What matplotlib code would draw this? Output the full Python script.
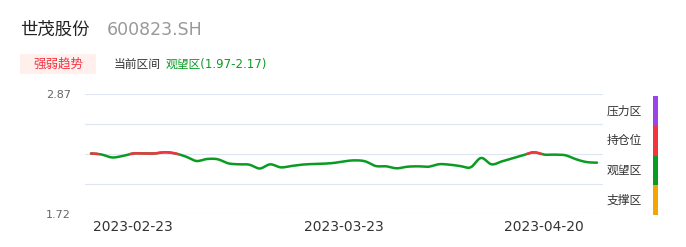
import matplotlib
matplotlib.use("Agg")
import matplotlib.pyplot as plt
import numpy as np
import pandas as pd

plt.rcParams['font.family'] = ['DejaVu Sans', 'Noto Sans CJK SC']

# trading days (Qingming holiday 2023-04-05 excluded)
dates = [d for d in pd.bdate_range('2023-02-17', '2023-04-27') if d.strftime('%m-%d') != '04-05']
values = [2.300, 2.290, 2.262, 2.276, 2.300, 2.300, 2.300, 2.312, 2.300, 2.270,
          2.228, 2.247, 2.245, 2.206, 2.196, 2.193, 2.156, 2.196, 2.167, 2.180,
          2.193, 2.199, 2.202, 2.209, 2.225, 2.234, 2.225, 2.180, 2.177, 2.158,
          2.173, 2.177, 2.173, 2.197, 2.193, 2.180, 2.167, 2.257, 2.196, 2.225,
          2.254, 2.283, 2.311, 2.289, 2.289, 2.283, 2.245, 2.218, 2.212]
tick_dates = ['2023-02-23', '2023-03-23', '2023-04-20']
y_min, y_max = 1.72, 2.87
hold_level = 2.295

zone_names = ['压力区', '持仓位', '观望区', '支撑区']
zone_colors = ['#9b45e8', '#f5333f', '#0a9c22', '#f5a500']

GREEN = '#0a9c22'
RED = '#f5333f'

fig = plt.figure(figsize=(6.86, 2.47), dpi=100)
ax = fig.add_axes([85/686, 33/247, 518/686, 120/247])

# smooth curve (catmull-rom)
x = np.arange(len(values))
y = np.array(values)
p = np.concatenate([[y[0]], y, [y[-1]]])
xs, ys = [], []
for i in range(len(y) - 1):
    t = np.linspace(0, 1, 20, endpoint=False)
    p0, p1, p2, p3 = p[i], p[i+1], p[i+2], p[i+3]
    seg = 0.5 * ((2*p1) + (-p0 + p2)*t + (2*p0 - 5*p1 + 4*p2 - p3)*t**2 + (-p0 + 3*p1 - 3*p2 + p3)*t**3)
    xs.extend(i + t)
    ys.extend(seg)
xs.append(x[-1]); ys.append(y[-1])
xs = np.array(xs); ys = np.array(ys)

ax.plot(xs, ys, color=GREEN, lw=1.8, solid_capstyle='round', zorder=3)
ax.plot(xs, np.ma.masked_less(ys, hold_level), color=RED, lw=1.8, solid_capstyle='round', zorder=4)

ax.set_xlim(-0.57, len(values) - 1 + 0.57)
ax.set_ylim(y_min, y_max)
for v in np.linspace(y_min, y_max, 5):
    ax.axhline(v, color='#e0e6f1', lw=0.8, zorder=1)
for s in ax.spines.values():
    s.set_visible(False)
ax.set_yticks([y_min, y_max])
ax.set_yticklabels([f'{y_min:.2f}', f'{y_max:.2f}'])
ax.tick_params(axis='y', length=0, pad=10, labelsize=8, labelcolor='#666666')
labels = [d.strftime('%Y-%m-%d') for d in dates]
ax.set_xticks([labels.index(t) for t in tick_dates])
ax.set_xticklabels(tick_dates)
ax.tick_params(axis='x', length=0, pad=4, labelsize=10, labelcolor='#333333')

# header
fig.text(20/686, 1 - 30/247, '世茂股份', fontsize=12.5, color='#222222', va='center')
fig.text(107/686, 1 - 30/247, '600823.SH', fontsize=12.5, color='#999999', va='center')
fig.patches.append(plt.Rectangle((20/686, 1 - 74/247), 76/686, 20/247, transform=fig.transFigure,
                                 facecolor='#fff0ee', edgecolor='none'))
fig.text(58/686, 1 - 64/247, '强弱趋势', fontsize=9, color=RED, va='center', ha='center')
fig.text(114/686, 1 - 64/247, '当前区间', fontsize=8.5, color='#333333', va='center')
fig.text(166/686, 1 - 64/247, '观望区(1.97-2.17)', fontsize=8.5, color=GREEN, va='center')

# zone legend bar
top, h = 96, 29.8
for k, (name, c) in enumerate(zip(zone_names, zone_colors)):
    y0 = top + k * h
    fig.patches.append(plt.Rectangle((653/686, 1 - (y0 + h)/247), 5/686, h/247,
                                     transform=fig.transFigure, facecolor=c, edgecolor='none'))
    fig.text(607/686, 1 - (y0 + h/2)/247, name, fontsize=8.5, color='#333333', va='center')

fig.savefig('out.png', dpi=100)
